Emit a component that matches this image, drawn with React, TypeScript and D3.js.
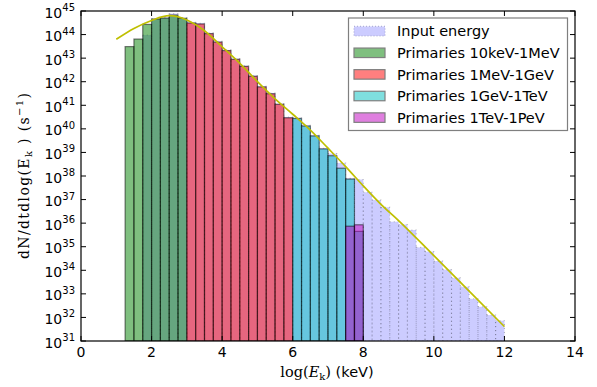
import * as d3 from 'd3'

// bin left edges (log10 keV) and log10 of counts
const BIN = 0.25

const greenLeft = [1.25, 1.5, 1.75, 2.0, 2.25, 2.5, 2.75]
const greenLog = [43.49, 43.81, 44.43, 44.66, 44.7, 44.83, 44.69]

const redLeft = [3.0, 3.25, 3.5, 3.75, 4.0, 4.25, 4.5, 4.75, 5.0, 5.25, 5.5, 5.75]
const redLog = [44.49, 44.45, 44.04, 43.68, 43.32, 42.95, 42.65, 42.23, 41.78, 41.49, 41.04, 40.47]

const cyanLeft = [6.0, 6.25, 6.5, 6.75, 7.0, 7.25, 7.5, 7.75]
const cyanLog = [40.44, 40.12, 39.7, 39.15, 38.86, 38.33, 37.87, 35.65]

const magentaLeft = [7.5, 7.75]
const magentaLog = [35.87, 35.93]

const inputLeft = [
  1.75, 2.0, 2.25, 2.5, 2.75, 3.0, 3.25, 3.5, 3.75, 4.0, 4.25, 4.5, 4.75, 5.0,
  5.25, 5.5, 5.75, 6.0, 6.25, 6.5, 6.75, 7.0, 7.25, 7.5, 7.75, 8.0, 8.25, 8.5,
  8.75, 9.0, 9.25, 9.5, 9.75, 10.0, 10.25, 10.5, 10.75, 11.0, 11.25, 11.5, 11.75,
]
const inputLog = [
  43.98, 44.68, 44.72, 44.89, 44.71, 44.52, 44.48, 44.07, 43.71, 43.35, 42.98,
  42.68, 42.26, 41.81, 41.52, 41.07, 40.5, 40.47, 40.15, 39.73, 39.18, 38.95,
  38.55, 37.9, 37.85, 37.31, 36.98, 36.67, 36.06, 35.94, 35.71, 34.97, 34.79,
  34.39, 34.03, 33.68, 33.3, 32.79, 32.45, 32.1, 31.86,
]

const curveX = [1.0, 1.5, 2.0, 2.5, 3.0, 3.5, 4.0, 4.5, 5.0, 5.5, 6.0, 6.5, 7.0, 7.5, 8.0, 8.5, 9.0, 10.0, 11.0, 12.0]
const curveLog = [43.8, 44.26, 44.6, 44.8, 44.62, 44.16, 43.48, 42.78, 42.0, 41.27, 40.62, 39.95, 39.18, 38.4, 37.58, 36.8, 36.11, 34.62, 33.12, 31.61]

const xTicks = [0, 2, 4, 6, 8, 10, 12, 14]
const yExponents = [31, 32, 33, 34, 35, 36, 37, 38, 39, 40, 41, 42, 43, 44, 45]

const legendLabels = [
  'Input energy',
  'Primaries 10keV-1MeV',
  'Primaries 1MeV-1GeV',
  'Primaries 1GeV-1TeV',
  'Primaries 1TeV-1PeV',
]

const W = 597
const H = 387
const PLOT = { left: 81, right: 575, top: 11, bottom: 341 }
const SANS = 'DejaVu Sans, sans-serif'
const SERIF = 'DejaVu Serif, serif'

const x = d3.scaleLinear().domain([0, 14]).range([PLOT.left, PLOT.right])
const y = d3.scaleLog().domain([1e31, 1e45]).range([PLOT.bottom, PLOT.top])

const series = [
  { left: greenLeft, vals: greenLog, color: '#008000' },
  { left: redLeft, vals: redLog, color: '#ff0000' },
  { left: cyanLeft, vals: cyanLog, color: '#00bfbf' },
  { left: magentaLeft, vals: magentaLog, color: '#bf00bf' },
]

function Bars({ left, vals, color }: { left: number[]; vals: number[]; color: string }) {
  return (
    <g>
      {left.map((l, i) => {
        const top = y(Math.pow(10, vals[i]))
        return (
          <rect
            key={i}
            x={x(l)}
            y={top}
            width={x(l + BIN) - x(l)}
            height={PLOT.bottom - top}
            fill={color}
            fillOpacity={0.5}
            stroke="#000"
            strokeOpacity={0.5}
            strokeWidth={1.2}
          />
        )
      })}
    </g>
  )
}

export default function App() {
  const line = d3
    .line<number>()
    .x((_, i) => x(curveX[i]))
    .y(d => y(Math.pow(10, d)))
    .curve(d3.curveMonotoneX)

  const legendFills = ['#ccccff', '#7fbf7f', '#ff7f7f', '#7fdfdf', '#df7fdf']

  return (
    <svg width={W} height={H} style={{ position: 'absolute', left: 0, top: 0 }}>
      <rect width={W} height={H} fill="#fff" />
      <defs>
        <clipPath id="plot">
          <rect x={PLOT.left} y={PLOT.top} width={PLOT.right - PLOT.left} height={PLOT.bottom - PLOT.top} />
        </clipPath>
      </defs>

      <g clipPath="url(#plot)">
        {/* input energy, light blue with dotted edges */}
        {inputLeft.map((l, i) => {
          const top = y(Math.pow(10, inputLog[i]))
          return (
            <rect
              key={i}
              x={x(l)}
              y={top}
              width={x(l + BIN) - x(l)}
              height={PLOT.bottom - top}
              fill="#0000ff"
              fillOpacity={0.2}
              stroke="#000"
              strokeOpacity={0.25}
              strokeWidth={1.1}
              strokeDasharray="1 3"
            />
          )
        })}
        {series.map((s, i) => (
          <Bars key={i} {...s} />
        ))}
        <path d={line(curveLog) ?? ''} fill="none" stroke="#bfbf00" strokeWidth={1.7} />
      </g>

      {/* frame */}
      <rect
        x={PLOT.left}
        y={PLOT.top}
        width={PLOT.right - PLOT.left}
        height={PLOT.bottom - PLOT.top}
        fill="none"
        stroke="#000"
        strokeWidth={1.2}
      />

      {/* x ticks */}
      {xTicks.map(t => (
        <g key={t}>
          <line x1={x(t)} x2={x(t)} y1={PLOT.bottom} y2={PLOT.bottom - 5} stroke="#000" />
          <line x1={x(t)} x2={x(t)} y1={PLOT.top} y2={PLOT.top + 5} stroke="#000" />
          <text x={x(t)} y={357} textAnchor="middle" fontFamily={SANS} fontSize={14}>
            {t}
          </text>
        </g>
      ))}

      {/* y ticks */}
      {yExponents.map(e => {
        const ty = y(Math.pow(10, e))
        return (
          <g key={e}>
            <line x1={PLOT.left} x2={PLOT.left + 5} y1={ty} y2={ty} stroke="#000" />
            <line x1={PLOT.right} x2={PLOT.right - 5} y1={ty} y2={ty} stroke="#000" />
            <text x={75} y={ty + 6.5} textAnchor="end" fontFamily={SANS} fontSize={14}>
              10
              <tspan dy={-6.5} fontSize={10}>
                {e}
              </tspan>
            </text>
          </g>
        )
      })}

      {/* axis labels */}
      <text x={327} y={377} textAnchor="middle" fontSize={14.5}>
        <tspan fontFamily={SERIF}>log(</tspan>
        <tspan fontFamily={SERIF} fontStyle="italic">E</tspan>
        <tspan fontFamily={SERIF} fontSize={10} dy={3}>k</tspan>
        <tspan fontFamily={SERIF} dy={-3}>)</tspan>
        <tspan fontFamily={SANS}> (keV)</tspan>
      </text>
      <text
        transform="translate(29,176) rotate(-90)"
        textAnchor="middle"
        fontFamily={SERIF}
        fontSize={14}
        textLength={166}
        lengthAdjust="spacing"
      >
        dN/dtdlog(E
        <tspan fontSize={10} dy={3}>k</tspan>
        <tspan dy={-3}> ) (s</tspan>
        <tspan fontSize={10} dy={-6}>−1</tspan>
        <tspan dy={6}>)</tspan>
      </text>

      {/* legend */}
      <rect x={348.5} y={18} width={219} height={112.5} fill="#fff" stroke="#7f7f7f" strokeWidth={1.2} />
      {legendLabels.map((lab, i) => {
        const cy = 31.2 + i * 21.6
        return (
          <g key={lab}>
            <rect
              x={354}
              y={cy - 4.75}
              width={31}
              height={9.5}
              fill={legendFills[i]}
              stroke={i === 0 ? '#b0b0d8' : '#7f7f7f'}
              strokeWidth={1.2}
              strokeDasharray={i === 0 ? '1 2' : undefined}
            />
            <text x={397} y={cy + 5.2} fontFamily={SANS} fontSize={14.5}>
              {lab}
            </text>
          </g>
        )
      })}
    </svg>
  )
}
